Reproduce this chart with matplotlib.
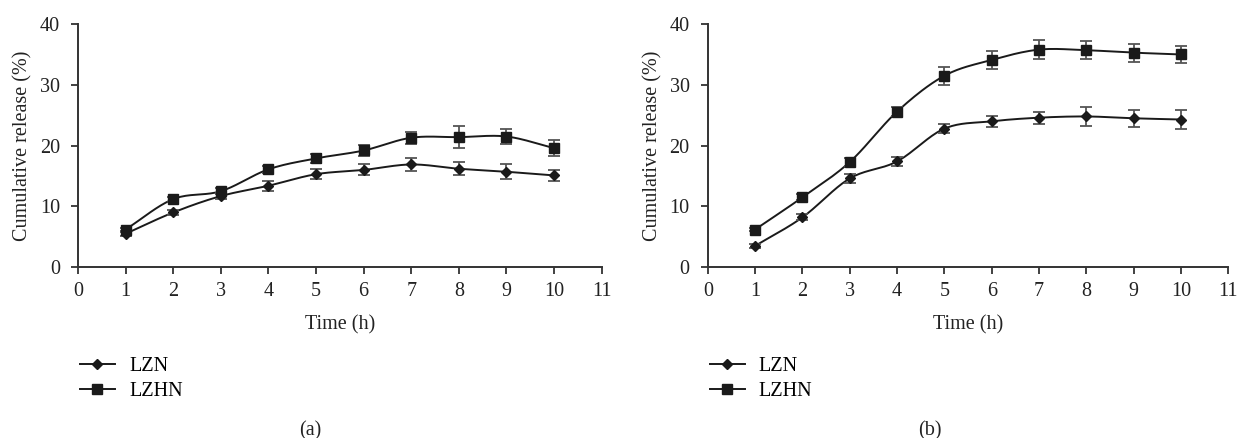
import numpy as np
import matplotlib
matplotlib.use('Agg')
import matplotlib.pyplot as plt
from matplotlib.lines import Line2D

plt.rcParams['font.family'] = ['Liberation Serif', 'DejaVu Serif']

# Data
time_h = [1, 2, 3, 4, 5, 6, 7, 8, 9, 10]

a_lzn = [5.5, 9.0, 11.7, 13.4, 15.3, 16.0, 16.9, 16.2, 15.7, 15.1]
a_lzn_err = [0.3, 0.4, 0.5, 0.8, 0.8, 0.9, 1.1, 1.1, 1.2, 0.9]
a_lzhn = [6.2, 11.2, 12.5, 16.1, 17.9, 19.2, 21.3, 21.4, 21.5, 19.6]
a_lzhn_err = [0.3, 0.4, 0.5, 0.6, 0.7, 0.9, 1.0, 1.8, 1.2, 1.3]

b_lzn = [3.5, 8.2, 14.6, 17.4, 22.8, 24.0, 24.6, 24.8, 24.5, 24.3]
b_lzn_err = [0.3, 0.5, 0.7, 0.8, 0.8, 0.9, 1.0, 1.6, 1.4, 1.5]
b_lzhn = [6.2, 11.5, 17.3, 25.6, 31.5, 34.1, 35.8, 35.7, 35.3, 35.0]
b_lzhn_err = [0.3, 0.5, 0.6, 0.7, 1.5, 1.5, 1.5, 1.5, 1.5, 1.4]

series_names = ['LZN', 'LZHN']
panel_labels = ['(a)', '(b)']


# Smooth line through the points (like a spreadsheet "smoothed line")
def smooth(x, y, n=20):
    x = np.asarray(x, float)
    y = np.asarray(y, float)
    px = np.concatenate([[2 * x[0] - x[1]], x, [2 * x[-1] - x[-2]]])
    py = np.concatenate([[2 * y[0] - y[1]], y, [2 * y[-1] - y[-2]]])
    xs, ys = [], []
    t = np.linspace(0, 1, n)
    for i in range(1, len(px) - 2):
        for p, out in ((px, xs), (py, ys)):
            p0, p1, p2, p3 = p[i - 1], p[i], p[i + 1], p[i + 2]
            out.append(0.5 * (2 * p1 + (-p0 + p2) * t
                              + (2 * p0 - 5 * p1 + 4 * p2 - p3) * t ** 2
                              + (-p0 + 3 * p1 - 3 * p2 + p3) * t ** 3))
    return np.concatenate(xs), np.concatenate(ys)


fig = plt.figure(figsize=(12.38, 4.38), dpi=100)
ax_a = fig.add_axes([0.063, 0.39, 0.423, 0.555])
ax_b = fig.add_axes([0.5717, 0.39, 0.4205, 0.555])

line_col = '#1a1a1a'
err_col = '#555555'
fs = 14.5

panels = [
    (ax_a, a_lzn, a_lzn_err, a_lzhn, a_lzhn_err),
    (ax_b, b_lzn, b_lzn_err, b_lzhn, b_lzhn_err),
]

for ax, lzn, lzn_err, lzhn, lzhn_err in panels:
    for vals, errs, mk, ms in ((lzn, lzn_err, 'D', 5.5), (lzhn, lzhn_err, 's', 7)):
        sx, sy = smooth(time_h, vals)
        ax.plot(sx, sy, color=line_col, lw=1.4, zorder=2)
        ax.errorbar(time_h, vals, yerr=errs, fmt='none', ecolor=err_col,
                    elinewidth=1.3, capsize=4.5, capthick=1.3, zorder=3)
        ax.plot(time_h, vals, linestyle='none', marker=mk, ms=ms,
                color=line_col, zorder=4)

    ax.set_xlim(0, 11)
    ax.set_ylim(0, 40)
    ax.set_xticks(range(0, 12))
    ax.set_yticks([0, 10, 20, 30, 40])
    ax.spines['top'].set_visible(False)
    ax.spines['right'].set_visible(False)
    for s in ('left', 'bottom'):
        ax.spines[s].set_linewidth(1.4)
        ax.spines[s].set_color('#333333')
    ax.tick_params(direction='out', length=5, width=1.3, colors='#333333',
                   labelsize=fs, labelcolor='#222222')
    ax.tick_params(axis='x', pad=6)
    ax.tick_params(axis='y', pad=8)
    ax.set_xlabel('Time (h)', fontsize=fs, color='#222222', labelpad=10)
    ax.set_ylabel('Cumulative release (%)', fontsize=fs, color='#222222',
                  labelpad=5)

# Legends and panel labels
handles = [
    Line2D([], [], color=line_col, lw=1.4, marker='D', ms=5),
    Line2D([], [], color=line_col, lw=1.4, marker='s', ms=6.5),
]
for ax, lab, xc in ((ax_a, panel_labels[0], 0.251), (ax_b, panel_labels[1], 0.751)):
    ax.legend(handles, series_names, loc='upper left',
              bbox_to_anchor=(-0.012, -0.335), frameon=False, fontsize=fs,
              handlelength=1.75, handletextpad=0.7, labelspacing=0.3,
              borderaxespad=0)
    fig.text(xc, -0.005, lab, ha='center', va='bottom', fontsize=fs,
             color='#222222')

fig.savefig('out.png', dpi=100)
